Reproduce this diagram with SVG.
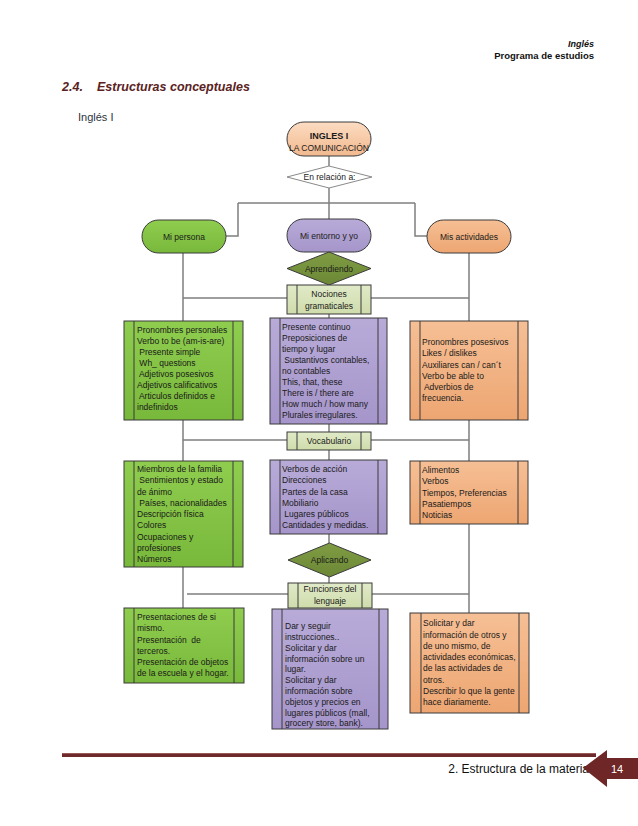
<svg xmlns="http://www.w3.org/2000/svg" width="638" height="826" viewBox="0 0 638 826">
<defs>
<linearGradient id="gGreen" x1="0" y1="0" x2="0" y2="1"><stop offset="0" stop-color="#8fcd4f"/><stop offset="1" stop-color="#78b83a"/></linearGradient>
<linearGradient id="gPurple" x1="0" y1="0" x2="0" y2="1"><stop offset="0" stop-color="#b8abd8"/><stop offset="1" stop-color="#a595ca"/></linearGradient>
<linearGradient id="gOrange" x1="0" y1="0" x2="0" y2="1"><stop offset="0" stop-color="#f6bf95"/><stop offset="1" stop-color="#eda672"/></linearGradient>
<linearGradient id="gPeach" x1="0" y1="0" x2="0" y2="1"><stop offset="0" stop-color="#fcdcc2"/><stop offset="1" stop-color="#f2b98e"/></linearGradient>
<linearGradient id="gLight" x1="0" y1="0" x2="0" y2="1"><stop offset="0" stop-color="#e0eac8"/><stop offset="1" stop-color="#cfdcab"/></linearGradient>
<linearGradient id="gOlive" x1="0" y1="0" x2="0" y2="1"><stop offset="0" stop-color="#809d44"/><stop offset="1" stop-color="#6b8735"/></linearGradient>
</defs>
<style>
.t{font-family:"Liberation Sans",Arial,sans-serif;font-size:8.5px;fill:#1a1a1a}
.c{text-anchor:middle}
.box{stroke:#3a3a3a;stroke-width:1}
.inner{stroke:#3a3a3a;stroke-width:1}
.conn{stroke:#7f7f7f;stroke-width:1.5;fill:none}
</style>
<rect width="638" height="826" fill="#ffffff"/>

<!-- header -->
<g id="header">
<text x="594" y="47" text-anchor="end" style="font-family:'Liberation Sans',Arial,sans-serif;font-size:9px;font-weight:bold;font-style:italic;fill:#111">Inglés</text>
<text x="594" y="59" text-anchor="end" style="font-family:'Liberation Sans',Arial,sans-serif;font-size:9.5px;font-weight:bold;fill:#111">Programa de estudios</text>
<text x="62" y="91" style="font-family:'Liberation Sans',Arial,sans-serif;font-size:12.5px;font-weight:bold;font-style:italic;fill:#5a2222">2.4.</text>
<text x="97" y="91" style="font-family:'Liberation Sans',Arial,sans-serif;font-size:12.5px;font-weight:bold;font-style:italic;fill:#5a2222">Estructuras conceptuales</text>
<text x="78" y="121" style="font-family:'Liberation Sans',Arial,sans-serif;font-size:11px;fill:#2e3440">Inglés I</text>
</g>

<!-- connectors -->
<g id="connectors">
<path class="conn" d="M329,156 V166"/>
<path class="conn" d="M329,188 V219"/>
<path class="conn" d="M238,203 H415"/>
<path class="conn" d="M238,203 V236 H226"/>
<path class="conn" d="M415,203 V236 H427"/>
<path class="conn" d="M183,298 H287 M371,298 H469"/>
<path class="conn" d="M183,252 V321 M183,420 V461 M183,567 V608"/>
<path class="conn" d="M469,252 V321 M469,420 V461 M469,524 V613"/>
<path class="conn" d="M183,440 H287 M371,440 H469"/>
<path class="conn" d="M187,594 H288 M372,594 H469"/>
<path class="conn" d="M329,314 V318 M329,424 V432 M329,450 V460 M329,534 V543 M329,577 V583"/>
</g>

<!-- nodes -->
<g id="ingles">
<rect class="box" x="287" y="122" width="84" height="34" rx="17" fill="url(#gPeach)"/>
<text class="t c" x="329" y="139" style="font-weight:bold;font-size:9px">INGLES I</text>
<text class="t c" x="329" y="151" style="font-size:8.5px">LA COMUNICACIÓN</text>
</g>
<g id="relacion">
<polygon points="287,177 329,166 372,177 329,188" fill="#ffffff" stroke="#8a8a8a" stroke-width="1"/>
<text class="t c" x="329.5" y="180">En relación a:</text>
</g>
<g id="persona">
<rect class="box" x="142" y="220" width="84" height="33" rx="16.5" fill="url(#gGreen)"/>
<text class="t c" x="184" y="239.5">Mi persona</text>
</g>
<g id="entorno">
<rect class="box" x="287" y="219" width="84" height="33" rx="16.5" fill="url(#gPurple)"/>
<text class="t c" x="329" y="238.5">Mi entorno y yo</text>
</g>
<g id="actividades">
<rect class="box" x="427" y="220" width="84" height="33" rx="16.5" fill="url(#gOrange)"/>
<text class="t c" x="469" y="239.5">Mis actividades</text>
</g>
<g id="aprendiendo">
<polygon class="box" points="287,268.5 329,252 371,268.5 329,285" fill="url(#gOlive)"/>
<text class="t c" x="329" y="271.5">Aprendiendo</text>
</g>
<g id="nociones">
<rect class="box" x="287" y="285" width="84" height="29" fill="url(#gLight)"/>
<line class="inner" x1="297" y1="285" x2="297" y2="314"/><line class="inner" x1="361" y1="285" x2="361" y2="314"/>
<text class="t c" x="329" y="297">Nociones</text>
<text class="t c" x="329" y="309">gramaticales</text>
</g>

<g id="green1">
<rect class="box" x="124" y="321" width="119" height="99" fill="url(#gGreen)"/>
<line class="inner" x1="134" y1="321" x2="134" y2="420"/><line class="inner" x1="233" y1="321" x2="233" y2="420"/>
<text class="t" x="137" y="333" xml:space="preserve">Pronombres personales</text>
<text class="t" x="137" y="344" xml:space="preserve">Verbo to be (am-is-are)</text>
<text class="t" x="137" y="355" xml:space="preserve"> Presente simple</text>
<text class="t" x="137" y="366" xml:space="preserve"> Wh_ questions</text>
<text class="t" x="137" y="377" xml:space="preserve"> Adjetivos posesivos</text>
<text class="t" x="137" y="388" xml:space="preserve">Adjetivos calificativos</text>
<text class="t" x="137" y="399" xml:space="preserve"> Articulos definidos e</text>
<text class="t" x="137" y="410" xml:space="preserve">indefinidos</text>
</g>
<g id="purple1">
<rect class="box" x="270" y="318" width="117" height="106" fill="url(#gPurple)"/>
<line class="inner" x1="280" y1="318" x2="280" y2="424"/><line class="inner" x1="378" y1="318" x2="378" y2="424"/>
<text class="t" x="282" y="330" xml:space="preserve">Presente continuo</text>
<text class="t" x="282" y="341" xml:space="preserve">Preposiciones de</text>
<text class="t" x="282" y="352" xml:space="preserve">tiempo y lugar</text>
<text class="t" x="282" y="363" xml:space="preserve"> Sustantivos contables,</text>
<text class="t" x="282" y="374" xml:space="preserve">no contables</text>
<text class="t" x="282" y="385" xml:space="preserve">This, that, these</text>
<text class="t" x="282" y="396" xml:space="preserve">There is / there are</text>
<text class="t" x="282" y="407" xml:space="preserve">How much / how many</text>
<text class="t" x="282" y="418" xml:space="preserve">Plurales irregulares.</text>
</g>
<g id="orange1">
<rect class="box" x="410" y="321" width="118" height="99" fill="url(#gOrange)"/>
<line class="inner" x1="420" y1="321" x2="420" y2="420"/><line class="inner" x1="518" y1="321" x2="518" y2="420"/>
<text class="t" x="422" y="345" xml:space="preserve">Pronombres posesivos</text>
<text class="t" x="422" y="356" xml:space="preserve">Likes / dislikes</text>
<text class="t" x="422" y="367.5" xml:space="preserve">Auxiliares can / can´t</text>
<text class="t" x="422" y="378.5" xml:space="preserve">Verbo be able to</text>
<text class="t" x="422" y="390" xml:space="preserve"> Adverbios de</text>
<text class="t" x="422" y="401" xml:space="preserve">frecuencia.</text>
</g>

<g id="vocabulario">
<rect class="box" x="287" y="432" width="84" height="18" fill="url(#gLight)"/>
<line class="inner" x1="297" y1="432" x2="297" y2="450"/><line class="inner" x1="361" y1="432" x2="361" y2="450"/>
<text class="t c" x="329" y="444">Vocabulario</text>
</g>

<g id="green2">
<rect class="box" x="124" y="461" width="119" height="106" fill="url(#gGreen)"/>
<line class="inner" x1="134" y1="461" x2="134" y2="567"/><line class="inner" x1="233" y1="461" x2="233" y2="567"/>
<text class="t" x="137" y="472" xml:space="preserve">Miembros de la familia</text>
<text class="t" x="137" y="483" xml:space="preserve"> Sentimientos y estado</text>
<text class="t" x="137" y="494.5" xml:space="preserve">de ánimo</text>
<text class="t" x="137" y="506" xml:space="preserve"> Países, nacionalidades</text>
<text class="t" x="137" y="517" xml:space="preserve">Descripción física</text>
<text class="t" x="137" y="528" xml:space="preserve">Colores</text>
<text class="t" x="137" y="539.5" xml:space="preserve">Ocupaciones y</text>
<text class="t" x="137" y="551" xml:space="preserve">profesiones</text>
<text class="t" x="137" y="562" xml:space="preserve">Números</text>
</g>
<g id="purple2">
<rect class="box" x="270" y="460" width="117" height="74" fill="url(#gPurple)"/>
<line class="inner" x1="280" y1="460" x2="280" y2="534"/><line class="inner" x1="378" y1="460" x2="378" y2="534"/>
<text class="t" x="282" y="472" xml:space="preserve">Verbos de acción</text>
<text class="t" x="282" y="483" xml:space="preserve">Direcciones</text>
<text class="t" x="282" y="494.5" xml:space="preserve">Partes de la casa</text>
<text class="t" x="282" y="505.5" xml:space="preserve">Mobiliario</text>
<text class="t" x="282" y="517" xml:space="preserve"> Lugares públicos</text>
<text class="t" x="282" y="528" xml:space="preserve">Cantidades y medidas.</text>
</g>
<g id="orange2">
<rect class="box" x="410" y="461" width="118" height="63" fill="url(#gOrange)"/>
<line class="inner" x1="420" y1="461" x2="420" y2="524"/><line class="inner" x1="518" y1="461" x2="518" y2="524"/>
<text class="t" x="422" y="473" xml:space="preserve">Alimentos</text>
<text class="t" x="422" y="484" xml:space="preserve">Verbos</text>
<text class="t" x="422" y="495.5" xml:space="preserve">Tiempos, Preferencias</text>
<text class="t" x="422" y="507" xml:space="preserve">Pasatiempos</text>
<text class="t" x="422" y="518" xml:space="preserve">Noticias</text>
</g>

<g id="aplicando">
<polygon class="box" points="288,560 329.5,543 371,560 329.5,577" fill="url(#gOlive)"/>
<text class="t c" x="329.5" y="563">Aplicando</text>
</g>
<g id="funciones">
<rect class="box" x="288" y="583" width="84" height="25" fill="url(#gLight)"/>
<line class="inner" x1="298" y1="583" x2="298" y2="608"/><line class="inner" x1="362" y1="583" x2="362" y2="608"/>
<text class="t c" x="330" y="592">Funciones del</text>
<text class="t c" x="330" y="604">lenguaje</text>
</g>

<g id="green3">
<rect class="box" x="124" y="608" width="120" height="75" fill="url(#gGreen)"/>
<line class="inner" x1="134" y1="608" x2="134" y2="683"/><line class="inner" x1="234" y1="608" x2="234" y2="683"/>
<text class="t" x="137" y="620" xml:space="preserve">Presentaciones de si</text>
<text class="t" x="137" y="631" xml:space="preserve">mismo.</text>
<text class="t" x="137" y="642.5" xml:space="preserve">Presentación  de</text>
<text class="t" x="137" y="653.5" xml:space="preserve">terceros.</text>
<text class="t" x="137" y="665" xml:space="preserve">Presentación de objetos</text>
<text class="t" x="137" y="676" xml:space="preserve">de la escuela y el hogar.</text>
</g>
<g id="purple3">
<rect class="box" x="272" y="609" width="116" height="120" fill="url(#gPurple)"/>
<line class="inner" x1="282" y1="609" x2="282" y2="729"/><line class="inner" x1="379" y1="609" x2="379" y2="729"/>
<text class="t" x="285" y="629" xml:space="preserve">Dar y seguir</text>
<text class="t" x="285" y="640" xml:space="preserve">instrucciones..</text>
<text class="t" x="285" y="650.5" xml:space="preserve">Solicitar y dar</text>
<text class="t" x="285" y="661.5" xml:space="preserve">información sobre un</text>
<text class="t" x="285" y="672" xml:space="preserve">lugar.</text>
<text class="t" x="285" y="683" xml:space="preserve">Solicitar y dar</text>
<text class="t" x="285" y="694" xml:space="preserve">información sobre</text>
<text class="t" x="285" y="704.5" xml:space="preserve">objetos y precios en</text>
<text class="t" x="285" y="715.5" xml:space="preserve">lugares públicos (mall,</text>
<text class="t" x="285" y="726" xml:space="preserve">grocery store, bank).</text>
</g>
<g id="orange3">
<rect class="box" x="410" y="613" width="119" height="100" fill="url(#gOrange)"/>
<line class="inner" x1="421" y1="613" x2="421" y2="713"/><line class="inner" x1="519" y1="613" x2="519" y2="713"/>
<text class="t" x="423" y="626" xml:space="preserve">Solicitar y dar</text>
<text class="t" x="423" y="637.5" xml:space="preserve">información de otros y</text>
<text class="t" x="423" y="648.5" xml:space="preserve">de uno mismo, de</text>
<text class="t" x="423" y="660" xml:space="preserve">actividades económicas,</text>
<text class="t" x="423" y="671" xml:space="preserve">de las actividades de</text>
<text class="t" x="423" y="682.5" xml:space="preserve">otros.</text>
<text class="t" x="423" y="694" xml:space="preserve">Describir lo que la gente</text>
<text class="t" x="423" y="705" xml:space="preserve">hace diariamente.</text>
</g>

<!-- footer -->
<g id="footer">
<line x1="62" y1="755" x2="596" y2="755" stroke="#6e2a2a" stroke-width="4"/>
<line x1="62" y1="753.5" x2="596" y2="753.5" stroke="#9a5a5a" stroke-width="1"/>
<text x="589" y="773" text-anchor="end" style="font-family:'Liberation Sans',Arial,sans-serif;font-size:12px;fill:#111">2. Estructura de la materia</text>
<polygon points="583,768 607,750 607,758 640,758 640,779 607,779 607,787" fill="#6e2626"/>
<text x="617" y="772.5" text-anchor="middle" style="font-family:'Liberation Sans',Arial,sans-serif;font-size:11px;fill:#ffffff">14</text>
</g>
</svg>
